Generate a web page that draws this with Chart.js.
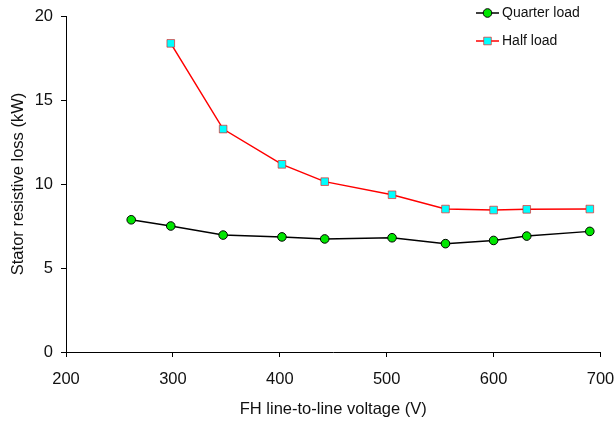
<!DOCTYPE html>
<html>
<head>
<meta charset="utf-8">
<script src="https://cdn.jsdelivr.net/npm/chart.js@4"></script>
<style>
  html, body { margin: 0; padding: 0; background: #fff; }
  #wrap { width: 614px; height: 424px; }
</style>
</head>
<body>
<div id="wrap"><canvas id="lossChart" width="614" height="424"></canvas></div>
<script>
// data
const quarterVoltage = [261, 298, 347, 402, 442, 505, 555, 600, 631, 690];
const quarterLoss = [7.87, 7.5, 6.96, 6.85, 6.73, 6.8, 6.45, 6.64, 6.9, 7.18];
const halfVoltage = [298, 347, 402, 442, 505, 555, 600, 631, 690];
const halfLoss = [18.37, 13.27, 11.17, 10.14, 9.36, 8.51, 8.45, 8.49, 8.51];
const seriesNames = ['Quarter load', 'Half load'];

const font = 'Liberation Sans, Arial, Helvetica, sans-serif';

const toPoints = (xs, ys) => xs.map((x, i) => ({ x: x, y: ys[i] }));

// legend drawn by hand, top right, line + marker + label
const legendPlugin = {
    id: 'sideLegend',
    afterDraw(chart) {
        const ctx = chart.ctx;
        const rows = [13, 41];
        chart.data.datasets.forEach((ds, i) => {
            const y = rows[i];
            ctx.save();
            ctx.strokeStyle = ds.borderColor;
            ctx.lineWidth = 1.5;
            ctx.beginPath();
            ctx.moveTo(476, y);
            ctx.lineTo(499, y);
            ctx.stroke();
            ctx.fillStyle = ds.pointBackgroundColor;
            ctx.strokeStyle = ds.pointBorderColor;
            ctx.lineWidth = ds.pointBorderWidth;
            Chart.helpers.drawPoint(ctx, {
                pointStyle: ds.pointStyle,
                radius: ds.pointRadius,
                borderWidth: ds.pointBorderWidth
            }, 487.5, y);
            ctx.fillStyle = '#111';
            ctx.font = '14px ' + font;
            ctx.textBaseline = 'middle';
            ctx.textAlign = 'left';
            ctx.fillText(ds.label, 502, y);
            ctx.restore();
        });
    }
};

const ctx = document.getElementById('lossChart').getContext('2d');
const lossChart = new Chart(ctx, {
    type: 'line',
    data: {
        datasets: [{
            label: seriesNames[0],
            data: toPoints(quarterVoltage, quarterLoss),
            borderColor: '#000',
            borderWidth: 1.5,
            pointStyle: 'circle',
            pointRadius: 4.3,
            pointBorderWidth: 1,
            pointBackgroundColor: '#00e600',
            pointBorderColor: '#000'
        }, {
            label: seriesNames[1],
            data: toPoints(halfVoltage, halfLoss),
            borderColor: '#ff0000',
            borderWidth: 1.5,
            pointStyle: 'rect',
            pointRadius: 5.4,
            pointBorderWidth: 1,
            pointBackgroundColor: '#00ffff',
            pointBorderColor: 'rgba(255,0,0,0.6)'
        }]
    },
    options: {
        responsive: false,
        animation: false,
        layout: { padding: { top: 16, right: 13.5, bottom: 0, left: 0 } },
        plugins: {
            legend: { display: false },
            tooltip: { enabled: false }
        },
        scales: {
            x: {
                type: 'linear',
                min: 200,
                max: 700,
                ticks: { stepSize: 100, color: '#111', padding: 13, font: { family: font, size: 16.5 } },
                grid: { drawOnChartArea: false, tickLength: 5, color: '#000' },
                border: { color: '#000', width: 1 },
                title: {
                    display: true,
                    text: 'FH line-to-line voltage (V)',
                    color: '#111',
                    font: { family: font, size: 16.5 },
                    padding: { top: 0, bottom: 5 }
                },
                afterFit(scale) {
                    scale.height = 72;
                    scale.paddingRight = 0;
                    scale.paddingLeft = 0;
                }
            },
            y: {
                min: 0,
                max: 20,
                ticks: { stepSize: 5, color: '#111', padding: 8, font: { family: font, size: 16.5 } },
                grid: { drawOnChartArea: false, tickLength: 5, color: '#000' },
                border: { color: '#000', width: 1 },
                title: {
                    display: true,
                    text: 'Stator resistive loss (kW)',
                    color: '#111',
                    font: { family: font, size: 16.5 },
                    padding: { top: 9, bottom: 0 }
                },
                afterFit(scale) {
                    scale.width = 66;
                    scale.paddingTop = 0;
                    scale.paddingBottom = 0;
                }
            }
        }
    },
    plugins: [legendPlugin]
});
</script>
</body>
</html>
